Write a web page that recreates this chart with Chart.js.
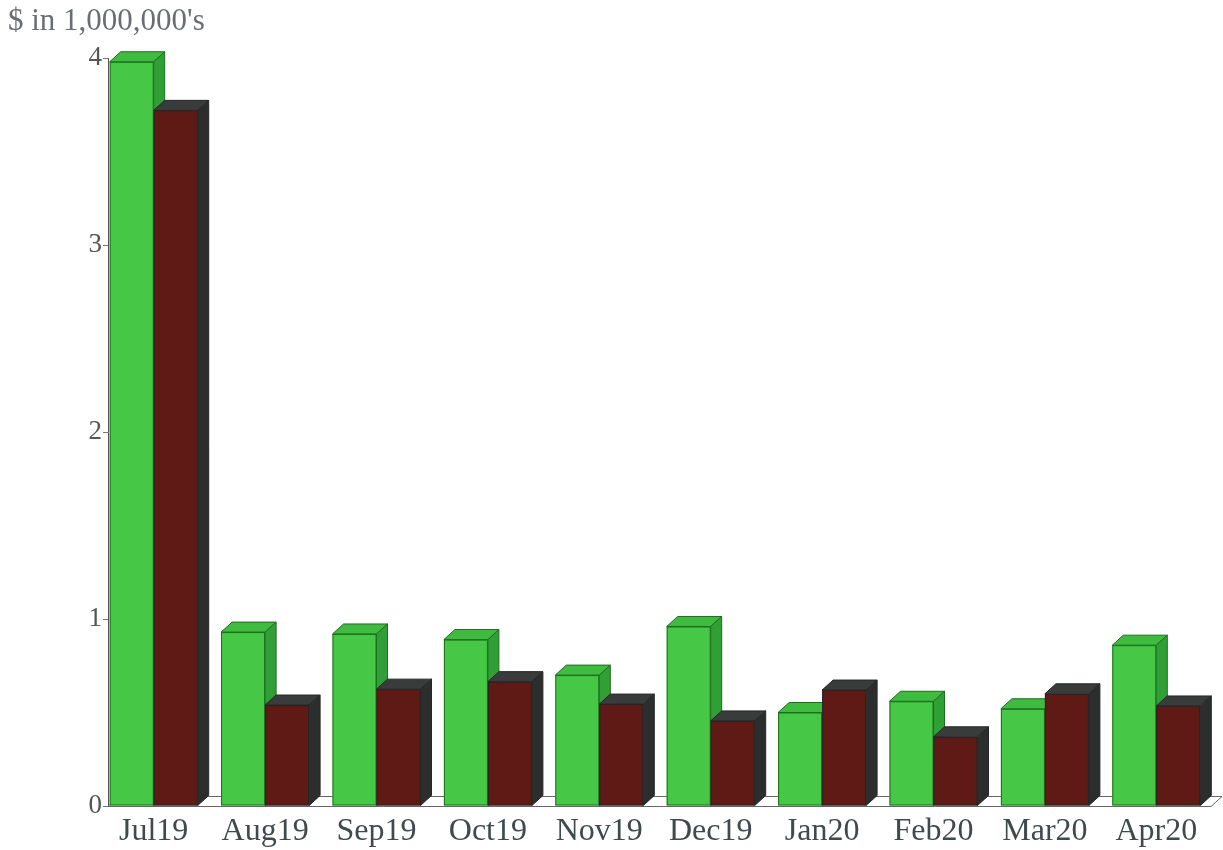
<!DOCTYPE html>
<html lang="en">
  <head>
    <meta charset="UTF-8" />
    <title>$ in 1,000,000's</title>
    <script src="https://cdn.jsdelivr.net/npm/chart.js"></script>
    <style>
      html, body { margin: 0; padding: 0; background: #fff; }
      #wrap { width: 1223px; height: 850px; }
    </style>
  </head>
  <body>
    <div id="wrap"><canvas id="chart" width="1223" height="850"></canvas></div>
    <script>
      const months = ["Jul19", "Aug19", "Sep19", "Oct19", "Nov19", "Dec19", "Jan20", "Feb20", "Mar20", "Apr20"];
      const greenVals = [3.98, 0.93, 0.92, 0.89, 0.70, 0.96, 0.50, 0.56, 0.52, 0.86];
      const redVals = [3.72, 0.54, 0.625, 0.665, 0.545, 0.455, 0.62, 0.37, 0.60, 0.535];
      const yTicks = [0, 1, 2, 3, 4];

      const depthX = 11;
      const depthY = -10;
      const shiftX = -10;

      // front / top / side colours for each series
      const faces = [
        { front: "#46c846", top: "#3fbb3f", side: "#30a036", edge: "#1f6e1f" },
        { front: "#5f1a16", top: "#3a3c3c", side: "#2c2e2e", edge: "#262626" }
      ];

      // chart.js paints datasets last-to-first, so paint the boxes here, category by category
      const bars3d = {
        id: "bars3d",
        beforeDatasetsDraw(chart) {
          const { ctx, chartArea: a } = chart;
          ctx.save();
          ctx.fillStyle = "#fff";
          ctx.strokeStyle = "#666";
          ctx.lineWidth = 1;
          ctx.beginPath();
          ctx.moveTo(a.left, a.bottom + 0.5);
          ctx.lineTo(a.right - depthX, a.bottom + 0.5);
          ctx.lineTo(a.right, a.bottom + depthY + 0.5);
          ctx.lineTo(a.left + depthX, a.bottom + depthY + 0.5);
          ctx.closePath();
          ctx.fill();
          ctx.stroke();
          ctx.restore();
        },
        afterDatasetsDraw(chart) {
          const { ctx } = chart;
          const metas = chart.data.datasets.map((d, i) => chart.getDatasetMeta(i));
          ctx.save();
          ctx.translate(shiftX, 0);
          ctx.lineWidth = 1;
          months.forEach((m, k) => {
            metas.forEach((meta, i) => {
              const bar = meta.data[k];
              const f = faces[i];
              const l = bar.x - bar.width / 2;
              const r = bar.x + bar.width / 2;
              const t = bar.y;
              const b = bar.base;
              ctx.strokeStyle = f.edge;
              // front
              ctx.fillStyle = f.front;
              ctx.fillRect(l, t, r - l, b - t);
              ctx.strokeRect(l + 0.5, t + 0.5, r - l - 1, b - t - 1);
              // top
              ctx.fillStyle = f.top;
              ctx.beginPath();
              ctx.moveTo(l, t);
              ctx.lineTo(l + depthX, t + depthY);
              ctx.lineTo(r + depthX, t + depthY);
              ctx.lineTo(r, t);
              ctx.closePath();
              ctx.fill();
              ctx.stroke();
              // side
              ctx.fillStyle = f.side;
              ctx.beginPath();
              ctx.moveTo(r, t);
              ctx.lineTo(r + depthX, t + depthY);
              ctx.lineTo(r + depthX, b + depthY);
              ctx.lineTo(r, b);
              ctx.closePath();
              ctx.fill();
              ctx.stroke();
            });
          });
          ctx.restore();
        }
      };

      const heading = {
        id: "heading",
        afterDraw(chart) {
          const { ctx } = chart;
          ctx.save();
          ctx.font = "31px 'Liberation Serif'";
          ctx.fillStyle = "#6a6e72";
          ctx.textBaseline = "alphabetic";
          ctx.fillText("$ in 1,000,000's", 8, 30);
          ctx.restore();
        }
      };

      new Chart(document.getElementById("chart"), {
        type: "bar",
        data: {
          labels: months,
          datasets: [
            { label: "green", data: greenVals, backgroundColor: "rgba(0,0,0,0)", borderWidth: 0, clip: false },
            { label: "red", data: redVals, backgroundColor: "rgba(0,0,0,0)", borderWidth: 0, clip: false }
          ]
        },
        options: {
          responsive: false,
          animation: false,
          layout: { padding: { top: 58, left: 0, right: 1, bottom: 0 } },
          datasets: { bar: { categoryPercentage: 0.79, barPercentage: 1 } },
          plugins: {
            legend: { display: false },
            tooltip: { enabled: false }
          },
          scales: {
            x: {
              grid: { display: false },
              border: { display: false },
              ticks: {
                labelOffset: shiftX,
                padding: -2,
                color: "#3f4a4c",
                font: { family: "'Liberation Serif'", size: 32 }
              },
              afterFit: (s) => { s.height = 44; }
            },
            y: {
              min: 0,
              max: 4,
              afterBuildTicks: (s) => { s.ticks = yTicks.map((v) => ({ value: v })); },
              grid: { drawOnChartArea: false, drawTicks: true, tickLength: 5, color: "#777" },
              border: { display: true, color: "#555", width: 1 },
              ticks: {
                padding: 1,
                color: "#555",
                font: { family: "'Liberation Serif'", size: 27 }
              },
              afterFit: (s) => { s.width = 108; }
            }
          }
        },
        plugins: [bars3d, heading]
      });
    </script>
  </body>
</html>
